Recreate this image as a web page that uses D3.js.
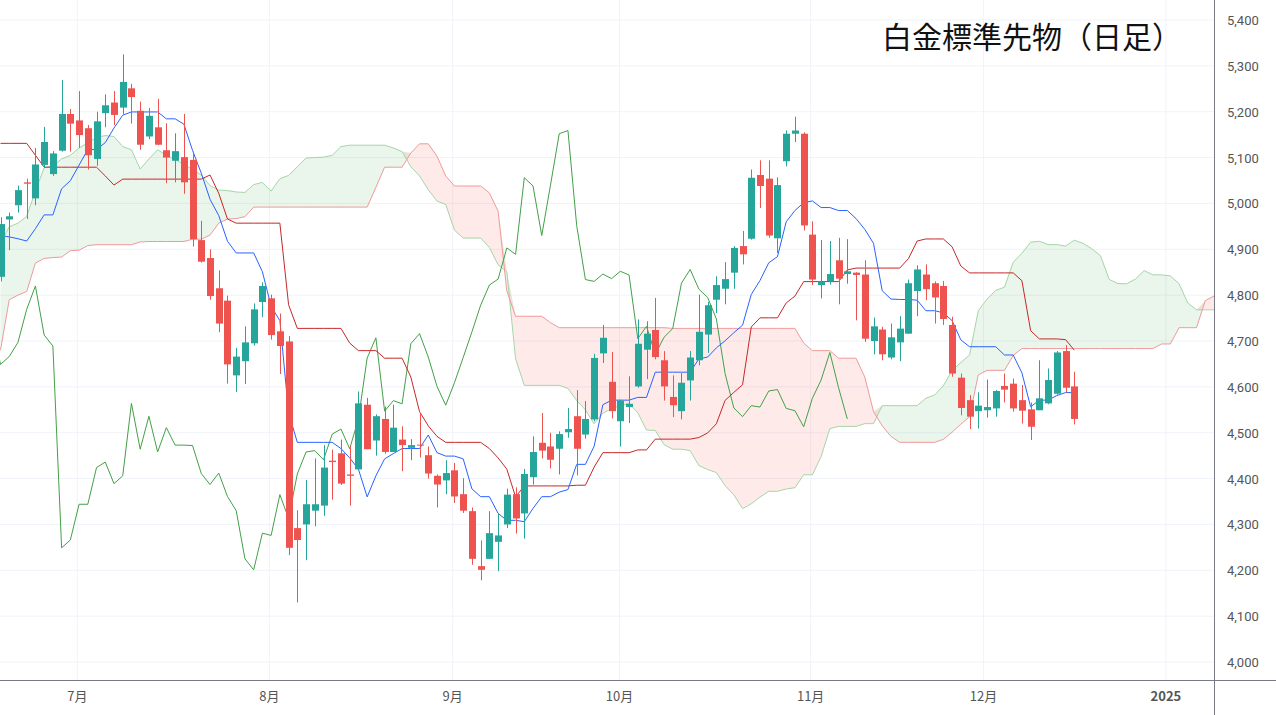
<!DOCTYPE html>
<html>
<head>
<meta charset="utf-8">
<script src="https://cdn.jsdelivr.net/npm/d3@7"></script>
<style>
  body { margin: 0; background: #fff; }
  svg { display: block; font-family: "Noto Sans CJK JP", "Noto Sans", sans-serif; }
</style>
</head>
<body>
<svg id="chart" width="1276" height="715"></svg>
<script>
// daily bars, index 0 = first visible bar (late June)
const opens  = [4840,4965,4996,5046,5011,5084,5064,5115,5195,5181,5164,5097,5197,5220,5209,5251,5202,5146,5166,5116,5093,5101,5095,4920,4881,4815,4788,4625,4656,4695,4785,4793,4721,4699,4292,4300,4330,4341,4439,4455,4409,4420,4561,4483,4530,4458,4485,4467,4474,4451,4406,4396,4418,4366,4329,4209,4225,4262,4300,4366,4324,4403,4478,4470,4465,4501,4536,4496,4529,4673,4611,4525,4556,4601,4681,4724,4658,4578,4547,4614,4658,4714,4790,4814,4849,4907,4923,5062,5054,4924,5092,5152,5152,4932,4822,4830,4876,4846,4849,4845,4700,4725,4664,4697,4716,4809,4845,4826,4820,4735,4620,4571,4547,4549,4553,4602,4607,4571,4551,4549,4564,4585,4678,4601]
const highs  = [4970,4980,5039,5054,5121,5167,5114,5269,5206,5245,5171,5200,5238,5245,5325,5261,5222,5208,5228,5175,5153,5195,5113,4962,4900,4854,4799,4685,4732,4782,4828,4801,4760,4711,4331,4397,4444,4473,4463,4485,4473,4590,4576,4540,4557,4561,4514,4486,4543,4470,4409,4440,4434,4401,4337,4265,4329,4325,4378,4381,4421,4492,4543,4500,4503,4554,4593,4569,4672,4735,4676,4572,4623,4747,4743,4794,4678,4625,4630,4678,4801,4785,4841,4872,4907,4940,5074,5094,5094,5057,5159,5189,5155,4961,4920,4918,4925,4922,4850,4876,4751,4731,4738,4754,4834,4865,4867,4830,4831,4753,4629,4582,4588,4616,4593,4629,4618,4604,4566,4658,4640,4678,4691,4633]
const lows   = [4830,4898,4980,4966,4996,5078,5060,5113,5113,5121,5074,5082,5166,5171,5195,5174,5117,5140,5127,5044,5046,5021,4906,4871,4790,4719,4607,4589,4606,4690,4752,4703,4628,4233,4130,4222,4296,4319,4354,4386,4341,4420,4464,4450,4454,4458,4416,4440,4446,4400,4337,4366,4347,4325,4212,4178,4225,4198,4292,4280,4269,4387,4444,4422,4409,4489,4407,4487,4525,4652,4531,4470,4521,4598,4617,4660,4570,4534,4529,4570,4647,4674,4761,4780,4814,4867,4921,4990,4925,4892,5081,5134,4941,4822,4793,4823,4780,4825,4745,4698,4671,4658,4660,4656,4716,4754,4789,4738,4735,4622,4538,4508,4509,4533,4535,4566,4546,4520,4484,4549,4562,4583,4588,4518]
const closes = [4955,4972,5029,5043,5085,5134,5109,5195,5174,5149,5105,5179,5214,5193,5265,5232,5128,5191,5128,5100,5114,5046,4922,4873,4798,4738,4649,4666,4697,4769,4820,4713,4689,4249,4266,4344,4344,4424,4436,4389,4406,4564,4464,4536,4458,4511,4473,4473,4472,4411,4387,4412,4361,4330,4225,4201,4281,4276,4365,4313,4410,4458,4461,4441,4497,4508,4465,4530,4663,4707,4547,4570,4563,4694,4716,4665,4601,4560,4609,4664,4720,4778,4822,4835,4903,4889,5056,5038,4930,5040,5152,5159,4952,4834,4830,4846,4836,4852,4844,4705,4732,4671,4708,4727,4826,4856,4813,4795,4748,4629,4554,4535,4559,4556,4591,4594,4553,4548,4513,4575,4615,4675,4598,4530]

// indicator values before enough visible history exists
const tenkanHead = [4930,4927,4923,4918,4945,4975,4975,5032]
const kijunHead  = [5131,5131,5131,5131,5105,5079,5079,5079,5079,5079,5079,5079,5060,5040,5053,5053,5053,5053,5053,5053,5053,5053,5053,5053,5062]
const spanAHead  = [4914,4949,4957,4972,5027,5078,5082,5097,5105,5121,5132,5144,5148,5146,5124,5117,5075,5097,5117,5105,5096,5085,5074,5062,5039,5029,5028,5025,5024,5041,5046,5027,5054,5061,5080,5099,5100,5101,5105,5124,5127,5127,5127,5127,5127,5121,5113,5080,5060,5030,5005]
const spanBHead  = [4680,4790,4800,4808,4870,4880,4882,4883,4897,4898,4908,4910,4910,4910,4910,4910,4916,4917,4917,4917,4917,4917,4922,4922,4931,4957,4966,4967,4971,4992,4992,4992,4992,4992,4992,4992,4992,4992,4992,4992,4992,4992,4992,5035,5079,5079,5079,5110,5130,5130,5103,5060,5038,5038,5038,5038,5023,4983,4809,4754,4754,4754,4754,4740,4729,4729,4729,4729,4729,4729,4729,4729,4729,4729,4729,4729,4729]

const monthLabels = ['7月','8月','9月','10月','11月','12月','2025']
const monthIdx    = [8.8, 30.8, 51.8, 70.9, 92.8, 112.6, 133.5]
const priceTicks  = d3.range(4000, 5401, 100)

const W = 1214, H = 680
const svg = d3.select('#chart')
const x = d3.scaleLinear().domain([0, 140]).range([0.5, 0.5 + 8.73 * 140])
const y = d3.scaleLinear().domain([4000, 5400]).range([662, 20])

const n = closes.length
let mid = (a, b, len) => {
  const s = Math.max(0, b - len + 1)
  return (d3.max(highs.slice(s, b + 1)) + d3.min(lows.slice(s, b + 1))) / 2
}
const tenkan = d3.range(n).map(i => i < tenkanHead.length ? tenkanHead[i] : mid(0, i, 9))
const kijun  = d3.range(n).map(i => i < kijunHead.length ? kijunHead[i] : mid(0, i, 26))
const spanA = d3.range(n + 26).map(j => j < spanAHead.length ? spanAHead[j] : (tenkan[j - 26] + kijun[j - 26]) / 2)
const spanB = d3.range(n + 26).map(j => j < spanBHead.length ? spanBHead[j] : mid(0, j - 26, 52))

svg.append('defs').append('clipPath').attr('id', 'plot')
  .append('rect').attr('width', W).attr('height', H)

// grid
const grid = svg.append('g')
grid.selectAll('.hg').data(priceTicks).enter().append('line')
  .attr('x1', 0).attr('x2', W).attr('y1', d => y(d)).attr('y2', d => y(d))
  .attr('stroke', '#f0f3fa')
grid.selectAll('.vg').data(monthIdx).enter().append('line')
  .attr('x1', d => x(d)).attr('x2', d => x(d)).attr('y1', 0).attr('y2', H)
  .attr('stroke', '#f0f3fa')

const plot = svg.append('g').attr('clip-path', 'url(#plot)')
const cloudIdx = d3.range(n + 26)

// cloud fills
plot.append('path').datum(cloudIdx)
  .attr('d', d3.area().x(j => x(j)).y0(j => y(spanB[j])).y1(j => y(Math.max(spanA[j], spanB[j]))))
  .attr('fill', 'rgba(67,160,71,0.11)')
plot.append('path').datum(cloudIdx)
  .attr('d', d3.area().x(j => x(j)).y0(j => y(spanA[j])).y1(j => y(Math.max(spanA[j], spanB[j]))))
  .attr('fill', 'rgba(244,67,54,0.11)')

let line = arr => d3.line().x(j => x(j)).y(j => y(arr[j]))
plot.append('path').datum(cloudIdx).attr('d', line(spanA))
  .attr('fill', 'none').attr('stroke', '#a5d6a7').attr('stroke-width', 1)
plot.append('path').datum(cloudIdx).attr('d', line(spanB))
  .attr('fill', 'none').attr('stroke', '#ef9a9a').attr('stroke-width', 1)

// chikou span: close plotted 26 bars back
plot.append('path').datum(d3.range(n))
  .attr('d', d3.line().x(i => x(i - 26)).y(i => y(closes[i])))
  .attr('fill', 'none').attr('stroke', '#43a047').attr('stroke-width', 1)

plot.append('path').datum(d3.range(n)).attr('d', line(kijun))
  .attr('fill', 'none').attr('stroke', '#c62828').attr('stroke-width', 1)
plot.append('path').datum(d3.range(n)).attr('d', line(tenkan))
  .attr('fill', 'none').attr('stroke', '#2962ff').attr('stroke-width', 1)

// candles
const up = '#26a69a', down = '#ef5350'
const candles = plot.selectAll('.c').data(d3.range(n)).enter().append('g')
candles.append('line')
  .attr('x1', i => Math.round(x(i)) + 0.5).attr('x2', i => Math.round(x(i)) + 0.5)
  .attr('y1', i => y(highs[i])).attr('y2', i => y(lows[i]))
  .attr('stroke', i => closes[i] >= opens[i] ? up : down)
candles.append('rect')
  .attr('x', i => Math.round(x(i)) - 3)
  .attr('width', 7)
  .attr('y', i => y(Math.max(opens[i], closes[i])))
  .attr('height', i => Math.max(1, y(Math.min(opens[i], closes[i])) - y(Math.max(opens[i], closes[i]))))
  .attr('fill', i => closes[i] >= opens[i] ? up : down)

// axes frame
svg.append('line').attr('x1', W + 0.5).attr('x2', W + 0.5).attr('y1', 0).attr('y2', 715).attr('stroke', '#787b86')
svg.append('line').attr('x1', 0).attr('x2', 1276).attr('y1', H + 0.5).attr('y2', H + 0.5).attr('stroke', '#787b86')

svg.selectAll('.pl').data(priceTicks).enter().append('text')
  .attr('x', 1227).attr('y', d => y(d) + 5)
  .attr('font-size', 13).attr('fill', '#555')
  .attr('font-family', 'Roboto, sans-serif')
  .text(d => d3.format(',')(d))

svg.selectAll('.ml').data(monthLabels).enter().append('text')
  .attr('x', (d, k) => x(monthIdx[k])).attr('y', 701)
  .attr('text-anchor', 'middle').attr('font-size', 13).attr('fill', '#555')
  .attr('font-weight', d => d === '2025' ? 'bold' : 'normal')
  .text(d => d)

svg.append('text').attr('x', 1182).attr('y', 48).attr('text-anchor', 'end')
  .attr('font-size', 30).attr('fill', '#111').text('白金標準先物（日足）')
</script>
</body>
</html>
